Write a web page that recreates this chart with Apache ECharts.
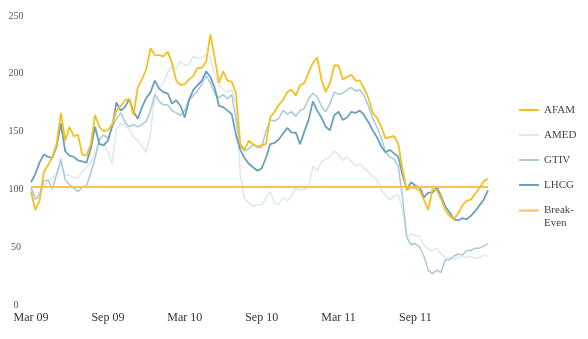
<!DOCTYPE html>
<html>
<head>
<meta charset="utf-8">
<script src="https://cdn.jsdelivr.net/npm/echarts@6/dist/echarts.min.js"></script>
<style>
  html, body { margin: 0; padding: 0; background: #ffffff; }
  #chart { width: 588px; height: 339px; }
</style>
</head>
<body>
<div id="chart"></div>
<script>
// Indexed share price (100 = purchase level), sampled every ten days, Mar 2009 – Feb 2012
const tickLabels = ['Mar 09', 'Sep 09', 'Mar 10', 'Sep 10', 'Mar 11', 'Sep 11'];
const yTicks = { min: 0, max: 250, step: 50 };
const BREAK_EVEN = 100;

const afam = [
  96, 80, 88, 113, 119, 126, 137, 164, 140, 152,
  144, 145, 128, 127, 137, 162, 152, 148, 149, 154,
  166, 170, 175, 176, 162, 186, 193, 202, 220, 214,
  214, 213, 217, 207, 192, 188, 189, 193, 196, 203,
  203, 208, 232, 212, 190, 200, 192, 191, 181, 137,
  132, 140, 137, 135, 136, 137, 160, 165, 171, 175,
  182, 184, 179, 188, 190, 199, 207, 212, 193, 182,
  190, 205, 205, 193, 195, 197, 192, 192, 185, 177,
  164, 160, 152, 142, 143, 144, 137, 115, 97, 100,
  99, 97, 89, 80, 98, 97, 90, 80, 75, 72,
  77, 84, 88, 89, 94, 99, 105, 107
];
const amed = [
  98, 92, 95, 101, 104, 108, 110, 120, 110, 110,
  108, 108, 113, 117, 121, 129, 139, 137, 131, 120,
  150, 155, 153, 150, 143, 140, 135, 130, 146, 180,
  185, 190, 199, 205, 202, 209, 205, 206, 213, 211,
  212, 214, 212, 197, 188, 184, 182, 184, 172, 110,
  90, 86, 83, 85, 84, 90, 96, 86, 85, 91,
  88, 92, 99, 97, 98, 100, 118, 114, 122, 124,
  126, 131, 128, 123, 126, 122, 118, 120, 116, 113,
  109, 106, 97, 93, 89, 92, 93, 80, 56, 59,
  58, 57, 50, 46, 45, 47, 42, 39, 39, 37,
  39, 40, 39, 40, 38, 39, 41, 40
];
const gtiv = [
  100, 89, 93, 105, 106, 98, 111, 124, 106, 102,
  99, 96, 100, 101, 112, 125, 141, 145, 142, 152,
  159, 164, 156, 152, 154, 152, 154, 157, 166, 180,
  174, 171, 171, 166, 164, 162, 166, 176, 179, 183,
  189, 196, 190, 181, 177, 180, 176, 180, 158, 135,
  131, 133, 137, 134, 134, 148, 158, 157, 159, 166,
  163, 165, 161, 166, 168, 176, 181, 178, 170, 165,
  172, 182, 180, 181, 184, 186, 183, 184, 179, 170,
  159, 152, 143, 130, 126, 124, 118, 90, 56, 50,
  51, 48, 40, 28, 25, 28, 26, 37, 37, 40,
  42, 41, 45, 45, 47, 47, 49, 51
];
const lhcg = [
  104, 111, 121, 128, 126, 125, 135, 155, 131, 127,
  126, 123, 122, 121, 133, 152, 137, 136, 140, 152,
  173, 166, 169, 176, 165, 159, 169, 177, 182, 192,
  185, 182, 181, 172, 175, 170, 160, 175, 184, 188,
  192, 200, 195, 186, 170, 169, 166, 163, 145, 132,
  125, 120, 117, 114, 116, 125, 137, 138, 141, 146,
  151, 147, 147, 137, 148, 158, 174, 166, 160, 152,
  149, 162, 165, 158, 160, 165, 164, 166, 162, 156,
  149, 143, 135, 130, 132, 129, 126, 110, 98, 104,
  101, 100, 91, 95, 95, 100, 92, 83, 78, 72,
  71, 73, 72, 75, 79, 84, 89, 97
];

// Sample dates: 1st, 11th and 21st of every month from March 2009
const categories = [];
for (let m = 0; m < afam.length / 3; m++) {
  const d = new Date(2009, 2 + m, 1);
  const ym = d.getFullYear() + '-' + String(d.getMonth() + 1).padStart(2, '0');
  ['01', '11', '21'].forEach(day => categories.push(ym + '-' + day));
}
const SAMPLES_PER_TICK = 18; // six months of ten-day samples

const FONT = "'Liberation Serif', 'DejaVu Serif', serif";
const colors = {
  afam: '#f3c11f',
  amed: '#dce8ee',
  gtiv: '#a9c8d8',
  lhcg: '#6b9fbd',
  breakEven: '#f8bf63'
};

function lineSeries(name, data, color, width, z) {
  return {
    name, type: 'line', data, z,
    symbol: 'none', showSymbol: false,
    itemStyle: { color },
    lineStyle: { color, width },
    emphasis: { disabled: true }
  };
}

const legendBase = {
  orient: 'vertical',
  left: 519,
  padding: 0,
  itemWidth: 20,
  itemHeight: 2,
  itemGap: 12,
  icon: 'rect',
  selectedMode: false,
  textStyle: { fontFamily: FONT, fontSize: 11, lineHeight: 13, color: '#444444' }
};

const chart = echarts.init(document.getElementById('chart'), null, { renderer: 'canvas' });
chart.setOption({
  animation: false,
  backgroundColor: '#ffffff',
  grid: { left: 31, right: 100, top: 13.5, bottom: 36.5, containLabel: false },
  xAxis: {
    type: 'category',
    data: categories,
    boundaryGap: false,
    axisLine: { show: false },
    axisTick: { show: false },
    splitLine: { show: false },
    axisLabel: {
      interval: SAMPLES_PER_TICK - 1,
      margin: 9,
      fontFamily: FONT,
      fontSize: 12,
      color: '#333333',
      formatter: (v, i) => (i % SAMPLES_PER_TICK === 0 ? tickLabels[i / SAMPLES_PER_TICK] || '' : '')
    }
  },
  yAxis: {
    type: 'value',
    min: yTicks.min,
    max: yTicks.max,
    interval: yTicks.step,
    axisLine: { show: false },
    axisTick: { show: false },
    splitLine: { show: false },
    axisLabel: {
      align: 'center',
      verticalAlign: 'top',
      lineHeight: 5,
      margin: 15,
      fontFamily: FONT,
      fontSize: 10,
      color: '#555555'
    }
  },
  legend: [
    Object.assign({}, legendBase, {
      top: 103.5,
      data: ['AFAM', 'AMED', 'GTIV', 'LHCG']
    }),
    Object.assign({}, legendBase, {
      top: 191,
      // leading blank line keeps the icon level with the first text line
      formatter: () => '\nBreak-\nEven',
      data: ['Break-Even']
    })
  ],
  series: [
    lineSeries('AMED', amed, colors.amed, 1.5, 1),
    lineSeries('GTIV', gtiv, colors.gtiv, 1.5, 2),
    {
      name: 'Break-Even', type: 'line', data: [], z: 3,
      symbol: 'none',
      itemStyle: { color: colors.breakEven },
      lineStyle: { color: colors.breakEven, width: 2 },
      markLine: {
        silent: true,
        symbol: ['none', 'none'],
        label: { show: false },
        lineStyle: { color: colors.breakEven, width: 2, type: 'solid' },
        data: [{ yAxis: BREAK_EVEN }]
      }
    },
    lineSeries('LHCG', lhcg, colors.lhcg, 1.8, 4),
    lineSeries('AFAM', afam, colors.afam, 1.8, 5)
  ]
});
</script>
</body>
</html>
